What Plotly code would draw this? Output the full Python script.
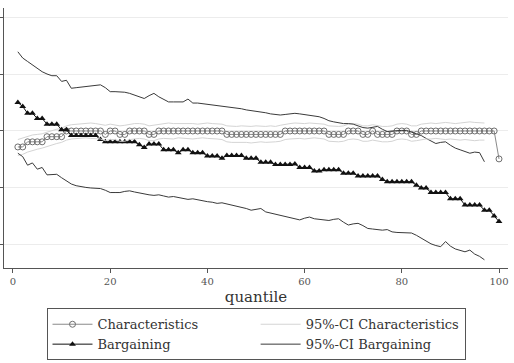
import plotly.graph_objects as go

quantiles = list(range(1, 101))
ci_quantiles = list(range(1, 98))

characteristics = [
    -0.28, -0.28, -0.19, -0.19, -0.19, -0.19, -0.10, -0.10, -0.10, -0.10,
    0, 0, 0, 0, 0, 0, 0, 0, -0.06, 0,
    0, -0.06, -0.06, 0, 0, 0, 0, -0.06, -0.06, 0,
    0, 0, 0, 0, 0, 0, 0, 0, 0, 0,
    0, 0, 0, -0.06, -0.06, -0.06, -0.06, -0.06, -0.06, -0.06,
    -0.06, -0.06, -0.06, -0.06, -0.06, 0, 0, 0, 0, 0,
    0, 0, 0, 0, -0.06, -0.06, -0.06, -0.06, 0, 0,
    0, -0.06, -0.06, 0, -0.06, -0.06, -0.06, -0.06, 0, 0,
    0, -0.06, -0.06, 0, 0, 0, 0, 0, 0, 0,
    0, 0, 0, 0, 0, 0, 0, 0, 0, -0.49,
]

bargaining = [
    0.50, 0.43, 0.31, 0.31, 0.22, 0.22, 0.12, 0.12, 0.12, 0.02,
    0.02, -0.08, -0.08, -0.08, -0.08, -0.08, -0.08, -0.15, -0.19, -0.19,
    -0.19, -0.19, -0.19, -0.19, -0.19, -0.24, -0.29, -0.23, -0.23, -0.23,
    -0.33, -0.33, -0.33, -0.38, -0.33, -0.33, -0.38, -0.38, -0.38, -0.44,
    -0.44, -0.44, -0.48, -0.43, -0.43, -0.43, -0.43, -0.48, -0.48, -0.48,
    -0.55, -0.55, -0.55, -0.59, -0.59, -0.59, -0.59, -0.58, -0.64, -0.64,
    -0.64, -0.70, -0.70, -0.68, -0.68, -0.68, -0.68, -0.74, -0.74, -0.74,
    -0.79, -0.79, -0.79, -0.79, -0.79, -0.85, -0.89, -0.89, -0.89, -0.89,
    -0.89, -0.89, -0.95, -1.00, -1.00, -1.08, -1.08, -1.08, -1.08, -1.19,
    -1.19, -1.19, -1.30, -1.30, -1.30, -1.30, -1.39, -1.39, -1.49, -1.59,
]

char_ci_upper = [
    -0.15, -0.12, -0.09, -0.07, -0.06, -0.05, -0.02, 0.01, 0.03, 0.05,
    0.09, 0.11, 0.12, 0.13, 0.13, 0.14, 0.13, 0.12, 0.10, 0.12,
    0.11, 0.09, 0.10, 0.12, 0.13, 0.13, 0.12, 0.09, 0.10, 0.12,
    0.13, 0.14, 0.13, 0.13, 0.14, 0.13, 0.13, 0.12, 0.13, 0.14,
    0.13, 0.13, 0.12, 0.09, 0.08, 0.08, 0.09, 0.08, 0.08, 0.09,
    0.08, 0.08, 0.09, 0.08, 0.10, 0.12, 0.13, 0.14, 0.13, 0.13,
    0.14, 0.13, 0.13, 0.12, 0.09, 0.08, 0.08, 0.09, 0.12, 0.13,
    0.12, 0.09, 0.09, 0.11, 0.09, 0.08, 0.08, 0.09, 0.12, 0.13,
    0.12, 0.09, 0.09, 0.12, 0.13, 0.14, 0.13, 0.14, 0.15, 0.14,
    0.13, 0.14, 0.15, 0.16, 0.15, 0.14, 0.14,
]

char_ci_lower = [
    -0.43, -0.41, -0.37, -0.34, -0.32, -0.30, -0.27, -0.24, -0.22, -0.20,
    -0.16, -0.14, -0.13, -0.13, -0.12, -0.13, -0.13, -0.14, -0.17, -0.15,
    -0.15, -0.18, -0.18, -0.15, -0.14, -0.13, -0.14, -0.17, -0.17, -0.14,
    -0.13, -0.13, -0.14, -0.12, -0.13, -0.13, -0.14, -0.13, -0.12, -0.13,
    -0.13, -0.14, -0.15, -0.19, -0.20, -0.20, -0.19, -0.20, -0.21, -0.20,
    -0.19, -0.20, -0.20, -0.19, -0.18, -0.15, -0.14, -0.13, -0.13, -0.14,
    -0.13, -0.12, -0.13, -0.14, -0.18, -0.19, -0.19, -0.18, -0.15, -0.14,
    -0.15, -0.18, -0.18, -0.16, -0.18, -0.19, -0.19, -0.18, -0.15, -0.14,
    -0.15, -0.18, -0.17, -0.15, -0.14, -0.14, -0.13, -0.14, -0.15, -0.14,
    -0.15, -0.16, -0.15, -0.16, -0.17, -0.16, -0.16,
]

barg_ci_upper = [
    1.39, 1.28, 1.22, 1.16, 1.10, 1.04, 1.00, 0.97, 0.97, 0.87,
    0.89, 0.75, 0.76, 0.77, 0.78, 0.79, 0.80, 0.81, 0.76, 0.69,
    0.69, 0.69, 0.68, 0.66, 0.63, 0.60, 0.57, 0.62, 0.66, 0.60,
    0.55, 0.51, 0.51, 0.51, 0.51, 0.56, 0.49, 0.49, 0.48, 0.47,
    0.46, 0.45, 0.43, 0.42, 0.41, 0.40, 0.39, 0.37, 0.36, 0.35,
    0.34, 0.32, 0.30, 0.29, 0.28, 0.29, 0.30, 0.31, 0.30, 0.29,
    0.28, 0.27, 0.25, 0.22, 0.18, 0.16, 0.14, 0.13, 0.13, 0.12,
    0.09, 0.06, 0.05, 0.07, 0.08, 0.03, -0.01, 0.00, 0.01, 0.01,
    0.01, -0.02, -0.04, -0.08, -0.13, -0.18, -0.22, -0.20, -0.19, -0.25,
    -0.30, -0.33, -0.36, -0.39, -0.37, -0.38, -0.54,
]

barg_ci_lower = [
    -0.39, -0.45, -0.60, -0.56, -0.67, -0.64, -0.77, -0.77, -0.76, -0.82,
    -0.88, -0.93, -0.96, -0.98, -0.99, -1.00, -1.00, -1.01, -1.04, -1.08,
    -1.08, -1.08, -1.06, -1.05, -1.07, -1.09, -1.10, -1.12, -1.13, -1.12,
    -1.14, -1.16, -1.15, -1.17, -1.18, -1.20, -1.19, -1.21, -1.23, -1.24,
    -1.25, -1.27, -1.26, -1.28, -1.30, -1.31, -1.33, -1.36, -1.39, -1.37,
    -1.36, -1.42, -1.44, -1.46, -1.48, -1.49, -1.52, -1.54, -1.56, -1.53,
    -1.51, -1.54, -1.55, -1.56, -1.57, -1.55, -1.54, -1.60, -1.65, -1.63,
    -1.62, -1.66, -1.71, -1.72, -1.73, -1.74, -1.73, -1.77, -1.78, -1.78,
    -1.79, -1.79, -1.83, -1.88, -1.94, -1.98, -2.01, -2.03, -1.94, -2.02,
    -2.07, -2.10, -2.12, -2.09, -2.16, -2.20, -2.26,
]

x_ticks = [0, 20, 40, 60, 80, 100]
y_ticks = [-2, -1, 0, 1, 2]

FONT = "DejaVu Serif"
CHAR_COLOR = "#8a8a8a"
CHAR_CI_COLOR = "#d4d4d4"
BARG_COLOR = "#111111"
BARG_CI_COLOR = "#3a3a3a"

fig = go.Figure()

fig.add_trace(go.Scatter(
    x=quantiles, y=characteristics, mode="lines+markers", name="Characteristics",
    line=dict(color=CHAR_COLOR, width=1),
    marker=dict(symbol="circle-open", size=6, color="#6f6f6f", line=dict(width=1)),
))
fig.add_trace(go.Scatter(
    x=ci_quantiles, y=char_ci_upper, mode="lines", name="95%-CI Characteristics",
    line=dict(color=CHAR_CI_COLOR, width=1),
))
fig.add_trace(go.Scatter(
    x=quantiles, y=bargaining, mode="lines+markers", name="Bargaining",
    line=dict(color=BARG_COLOR, width=1),
    marker=dict(symbol="triangle-up", size=6, color=BARG_COLOR),
))
fig.add_trace(go.Scatter(
    x=ci_quantiles, y=barg_ci_upper, mode="lines", name="95%-CI Bargaining",
    line=dict(color=BARG_CI_COLOR, width=1),
))
fig.add_trace(go.Scatter(
    x=ci_quantiles, y=char_ci_lower, mode="lines", showlegend=False,
    line=dict(color=CHAR_CI_COLOR, width=1),
))
fig.add_trace(go.Scatter(
    x=ci_quantiles, y=barg_ci_lower, mode="lines", showlegend=False,
    line=dict(color=BARG_CI_COLOR, width=1),
))

fig.update_layout(
    width=514, height=363,
    margin=dict(l=4, r=6, t=8, b=95, autoexpand=False),
    paper_bgcolor="white", plot_bgcolor="white",
    font=dict(family=FONT, color="#333333"),
    showlegend=True,
    legend=dict(
        orientation="h", x=0.5, xanchor="center", y=-0.155, yanchor="top",
        bordercolor="#555555", borderwidth=1, bgcolor="white",
        font=dict(family=FONT, size=13, color="#333333"),
        tracegroupgap=0, itemwidth=40,
    ),
    xaxis=dict(
        range=[-1.85, 101.85], tickvals=x_ticks, ticks="outside", ticklen=4,
        tickcolor="#555555", showline=True, linecolor="#555555", linewidth=1,
        showgrid=False, zeroline=False,
        tickfont=dict(family=FONT, size=10, color="#555555"),
        title=dict(text="quantile", font=dict(family=FONT, size=15, color="#333333"), standoff=5),
    ),
    yaxis=dict(
        range=[-2.404, 2.158], tickvals=y_ticks, ticks="outside", ticklen=4,
        tickcolor="#555555", showline=True, linecolor="#555555", linewidth=1,
        showgrid=True, gridcolor="#ececec", gridwidth=1, zeroline=False,
        showticklabels=False,
    ),
)

fig.write_html("out.html")
